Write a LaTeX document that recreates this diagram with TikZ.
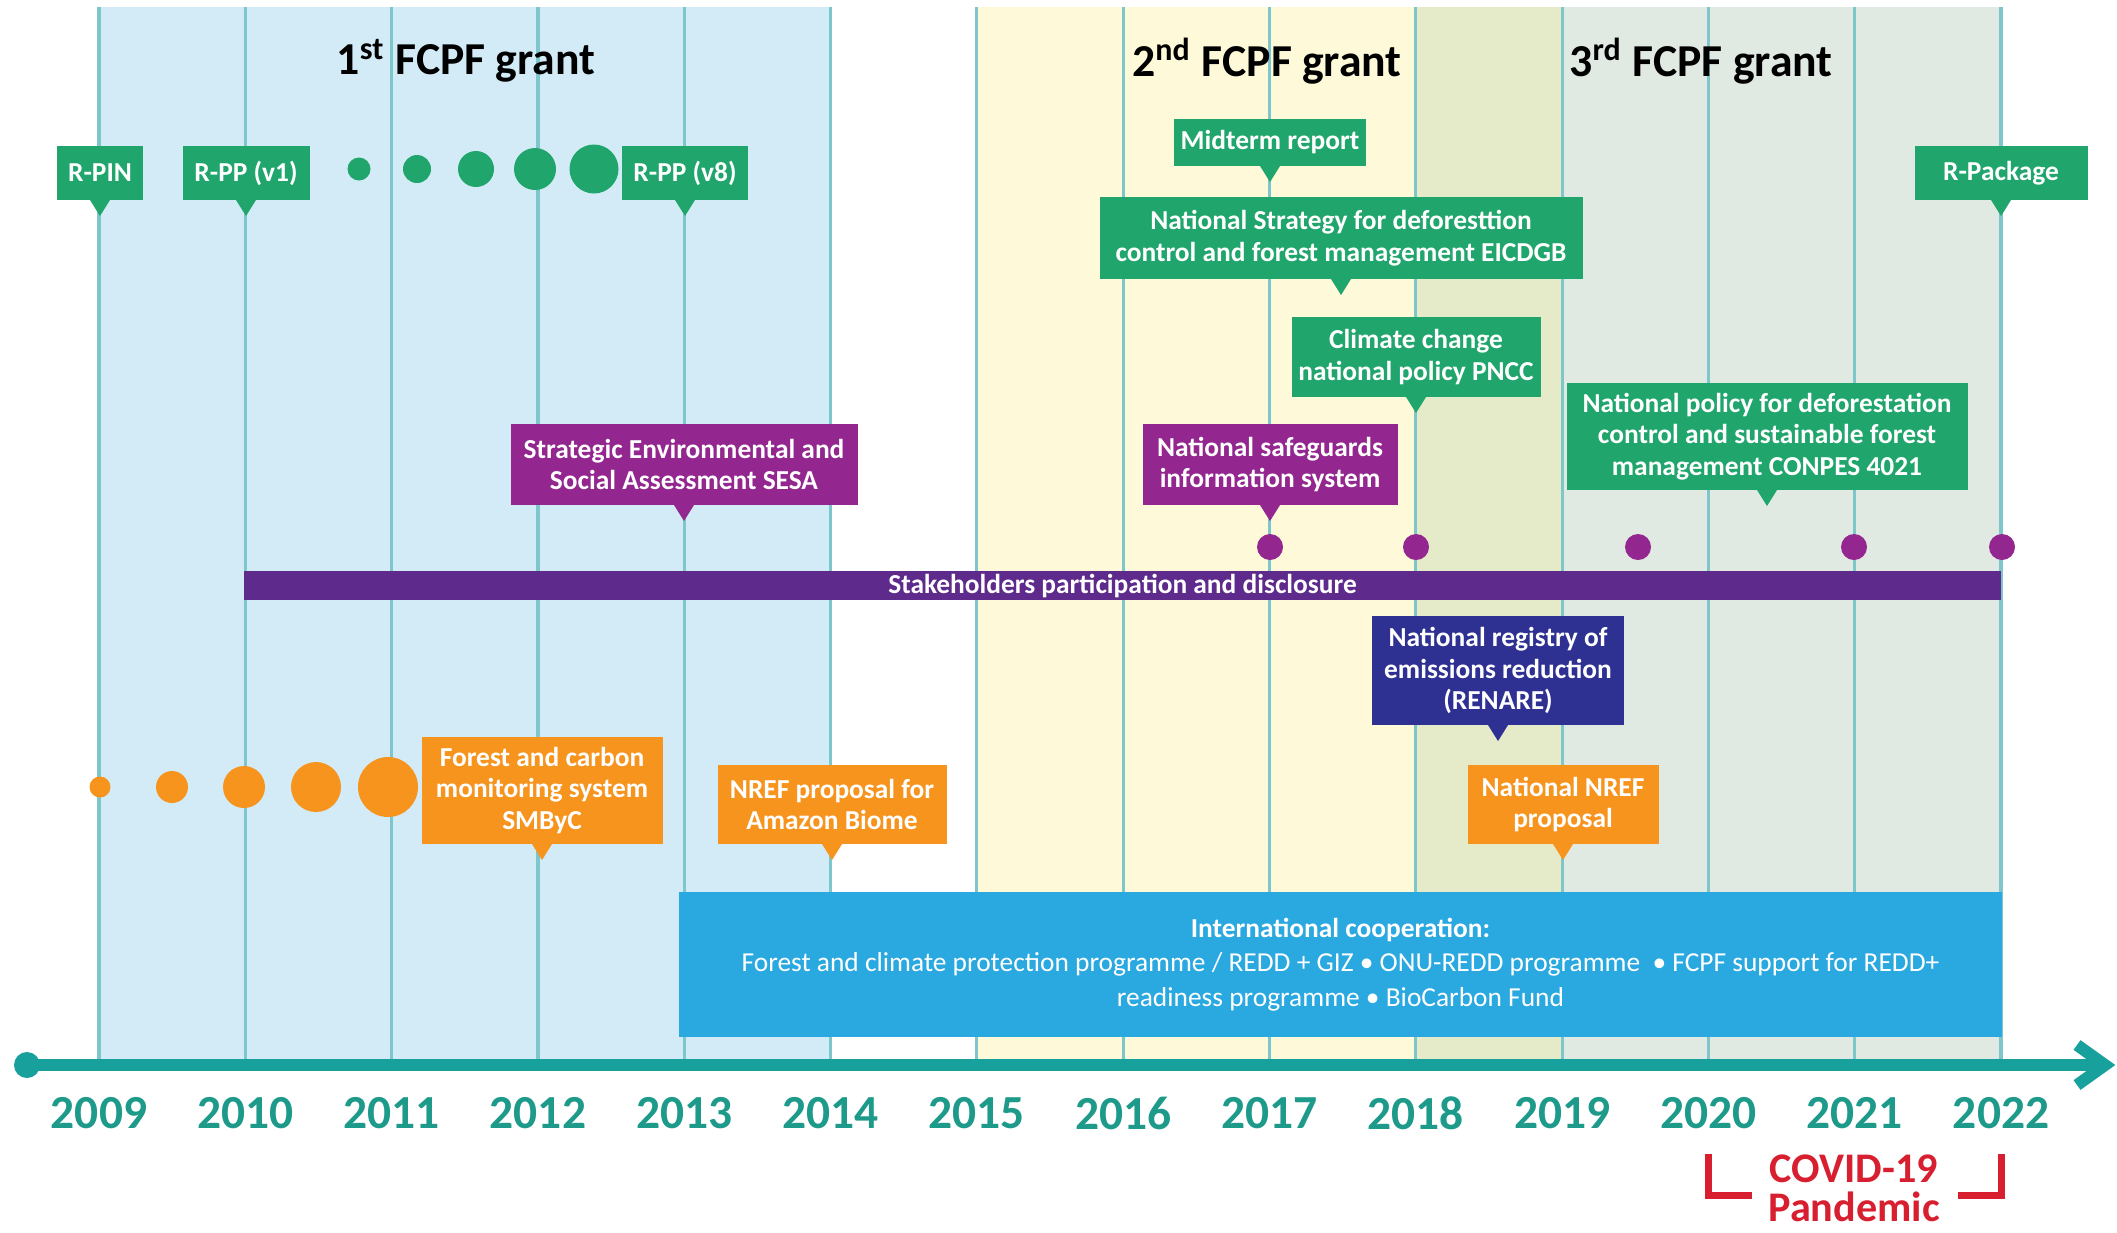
\documentclass[tikz,border=0pt]{standalone}
\usepackage{fontspec}
\setmainfont{Carlito}
\definecolor{cgreen}{HTML}{20A66C}
\definecolor{cpurple}{HTML}{93278F}
\definecolor{cviolet}{HTML}{5E2A8C}
\definecolor{cnavy}{HTML}{2E3192}
\definecolor{corange}{HTML}{F7941D}
\definecolor{cblue}{HTML}{2AA8E0}
\definecolor{caxis}{HTML}{17A09C}
\definecolor{cyear}{HTML}{1E9A8B}
\definecolor{cgrid}{HTML}{7CC6CC}
\definecolor{cred}{HTML}{D71F30}
\definecolor{bgblue}{HTML}{D3EBF6}
\definecolor{bgyellow}{HTML}{FDF9D9}
\definecolor{bgmix}{HTML}{E5EBC9}
\definecolor{bggray}{HTML}{E1E9E3}
\begin{document}
\begin{tikzpicture}
        [grid/.style={cgrid, line width=0.9pt},
        callout/.style={rectangle, fill=#1, text=white, align=center, inner sep=0pt, outer sep=0pt, anchor=south, font=\bfseries\fontsize{7.8}{9}\selectfont},
        bar/.style={rectangle, fill=cviolet, text=white, inner sep=0pt, minimum width=17.57cm, minimum height=0.29cm, font=\bfseries\fontsize{7.8}{9}\selectfont},
        coopbox/.style={rectangle, fill=cblue, text=white, align=center, inner sep=0pt, minimum width=13.23cm, minimum height=1.45cm, font=\fontsize{7.8}{9.8}\selectfont},
        yearlabel/.style={text=cyear, font=\bfseries\fontsize{13.5}{15}\selectfont},
        grant/.style={font=\bfseries\fontsize{13}{15}\selectfont},
        axis/.style={caxis, line width=3.4pt},
        covid/.style={cred, line width=2pt}]
        \useasboundingbox (0,0) rectangle (21.17,-12.32);

        % background bands of the three grants
        \fill[bgblue] (0.99,-0.07) rectangle (8.30,-10.65);
        \fill[bgyellow] (9.77,-0.07) rectangle (14.16,-10.65);
        \fill[bgmix] (14.16,-0.07) rectangle (15.62,-10.65);
        \fill[bggray] (15.62,-0.07) rectangle (20.01,-10.65);

        % year lines and labels
        \foreach \i in {0,...,13} {
            \pgfmathsetmacro{\x}{0.99+\i*1.4631}
            \pgfmathtruncatemacro{\yy}{2009+\i}
            \draw[grid] (\x,-0.07) -- (\x,-10.62);
            \node[yearlabel] (y\yy) at (\x,-11.13) {\yy};
        }

        \node[grant] (grantone) at (4.66,-0.61) {1\textsuperscript{st} FCPF grant};
        \node[grant] (granttwo) at (12.67,-0.61) {2\textsuperscript{nd} FCPF grant};
        \node[grant] (grantthree) at (17.01,-0.61) {3\textsuperscript{rd} FCPF grant};

        % growing dots
        \foreach \x/\r in {3.59/0.115, 4.17/0.14, 4.76/0.18, 5.35/0.21, 5.94/0.245}
            \fill[cgreen] (\x,-1.69) circle (\r);
        \foreach \x/\r in {1.00/0.105, 1.72/0.16, 2.44/0.21, 3.16/0.25, 3.88/0.30}
            \fill[corange] (\x,-7.87) circle (\r);
        \foreach \x in {12.70, 14.16, 16.38, 18.54, 20.02}
            \fill[cpurple] (\x,-5.47) circle (0.13);

        % green callouts
        \node[callout=cgreen, minimum width=0.86cm, minimum height=0.54cm] (rpin) at (1.00,-2.00) {R-PIN};
        \node[callout=cgreen, minimum width=1.27cm, minimum height=0.54cm] (rppone) at (2.46,-2.00) {R-PP (v1)};
        \node[callout=cgreen, minimum width=1.26cm, minimum height=0.54cm] (rppeight) at (6.85,-2.00) {R-PP (v8)};
        \node[callout=cgreen, minimum width=1.73cm, minimum height=0.54cm] (rpackage) at (20.01,-2.00) {R-Package};
        \node[callout=cgreen, minimum width=1.92cm, minimum height=0.47cm] (midterm) at (12.70,-1.66) {Midterm report};
        \node[callout=cgreen, minimum width=4.83cm, minimum height=0.82cm] (strategy) at (13.41,-2.79) {National Strategy for deforesttion\\control and forest management EICDGB};
        \node[callout=cgreen, minimum width=2.49cm, minimum height=0.80cm] (pncc) at (14.16,-3.97) {Climate change\\national policy PNCC};
        \node[callout=cgreen, minimum width=4.01cm, minimum height=1.07cm] (conpes) at (17.67,-4.90) {National policy for deforestation\\control and sustainable forest\\management CONPES 4021};

        % purple callouts
        \node[callout=cpurple, minimum width=3.47cm, minimum height=0.81cm] (sesa) at (6.84,-5.05) {Strategic Environmental and\\Social Assessment SESA};
        \node[callout=cpurple, minimum width=2.55cm, minimum height=0.81cm] (safeguards) at (12.70,-5.05) {National safeguards\\information system};

        \node[bar] (stake) at (11.225,-5.855) {Stakeholders participation and disclosure};

        \node[callout=cnavy, minimum width=2.52cm, minimum height=1.09cm] (renare) at (14.98,-7.25) {National registry of\\emissions reduction\\(RENARE)};

        % orange callouts
        \node[callout=corange, minimum width=2.41cm, minimum height=1.07cm] (smbyc) at (5.42,-8.44) {Forest and carbon\\monitoring system\\SMByC};
        \node[callout=corange, minimum width=2.29cm, minimum height=0.79cm] (nrefamazon) at (8.32,-8.44) {NREF proposal for\\Amazon Biome};
        \node[callout=corange, minimum width=1.91cm, minimum height=0.79cm] (nrefnational) at (15.63,-8.44) {National NREF\\proposal};

        % pointers under the callouts
        \foreach \n/\c in {rpin/cgreen, rppone/cgreen, rppeight/cgreen, rpackage/cgreen, midterm/cgreen, strategy/cgreen, pncc/cgreen, conpes/cgreen, sesa/cpurple, safeguards/cpurple, renare/cnavy, smbyc/corange, nrefamazon/corange, nrefnational/corange}
            \fill[\c] ([xshift=-1mm]\n.south) -- ([xshift=1mm]\n.south) -- ([yshift=-1.6mm]\n.south) -- cycle;

        \node[coopbox] (coop) at (13.405,-9.645) {\textbf{International cooperation:}\\Forest and climate protection programme / REDD + GIZ \textbullet{} ONU-REDD programme\ \ \textbullet{} FCPF support for REDD+\\readiness programme \textbullet{} BioCarbon Fund};

        % time axis
        \coordinate (axstart) at (0.27,-10.65);
        \coordinate (axend) at (21.00,-10.65);
        \coordinate (tip) at (21.05,-10.65);
        \draw[axis] (axstart) -- (axend);
        \fill[caxis] (axstart) circle (0.13);
        \draw[axis, miter limit=10] ([shift={(-0.28,0.20)}]tip) -- (tip) -- ([shift={(-0.28,-0.20)}]tip);

        % covid bracket
        \coordinate (cvl) at (17.08,-11.54);
        \coordinate (cvr) at (20.01,-11.54);
        \draw[covid] (cvl) -- ++(0,-0.41) -- ++(0.44,0);
        \draw[covid] (cvr) -- ++(0,-0.41) -- ++(-0.43,0);
        \node[text=cred, font=\bfseries\fontsize{12}{11.2}\selectfont, align=center] (covidtxt) at (18.54,-11.88) {COVID-19\\Pandemic};

\end{tikzpicture}
\end{document}
